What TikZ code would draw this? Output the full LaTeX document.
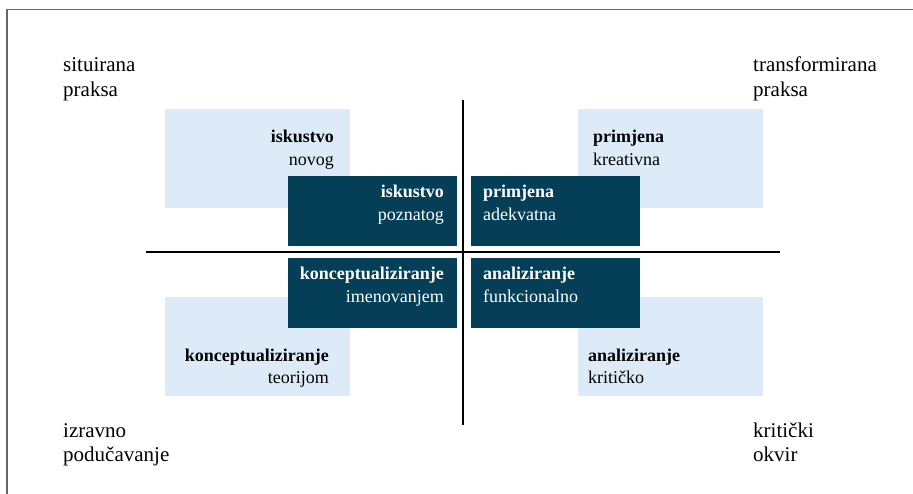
\documentclass[tikz,border=0pt]{standalone}
\usepackage{fontspec}
\setmainfont{Liberation Serif}
\usetikzlibrary{positioning}
\definecolor{darkbox}{HTML}{053F57}
\definecolor{lightbox}{HTML}{DDEBF8}

\begin{document}
\begin{tikzpicture}[x=1pt,y=-1pt,
	lightbox/.style={fill=lightbox,anchor=north west,inner sep=0,minimum width=185,minimum height=99},
	darkbox/.style={fill=darkbox,anchor=north west,inner sep=0,minimum width=169,minimum height=70},
	boxtext/.style={inner sep=0,font=\fontsize{18}{22.5}\selectfont},
	cornertext/.style={inner sep=0,align=left,anchor=base west,font=\fontsize{21}{24.5}\selectfont},
	axis/.style={line width=1.6pt},
	frame/.style={draw=black!60,line width=1.4pt}]
					\useasboundingbox (0,0) rectangle (913,494);
					\draw[frame] (7,494) -- (7,9.5) -- (913,9.5);
					% light boxes
					\node[lightbox] (novog) at (165,109) {};
					\node[lightbox] (kreativna) at (578,109) {};
					\node[lightbox] (teorijom) at (165,297) {};
					\node[lightbox] (kriticko) at (578,297) {};
					% dark boxes
					\node[darkbox] (poznatog) at (288,176) {};
					\node[darkbox] (adekvatna) at (471,176) {};
					\node[darkbox] (imenovanjem) at (288,258) {};
					\node[darkbox] (funkcionalno) at (471,258) {};
					% axes
					\coordinate (top) at (463,100);
					\coordinate (bottom) at (463,425);
					\coordinate (left) at (146,252);
					\coordinate (right) at (780,252);
					\draw[axis] (top) -- (bottom);
					\draw[axis] (left) -- (right);
					% box texts (base = last line)
					\node[boxtext,align=right,anchor=base east] (t1) at (334,165.5) {\textbf{iskustvo}\\novog};
					\node[boxtext,align=left,anchor=base west] (t2) at (593,165.5) {\textbf{primjena}\\kreativna};
					\node[boxtext,align=right,anchor=base east] (t3) at (329,383.5) {\textbf{konceptualiziranje}\\teorijom};
					\node[boxtext,align=left,anchor=base west] (t4) at (588,383.5) {\textbf{analiziranje}\\kritičko};
					\node[boxtext,align=right,anchor=base east,text=white] (t5) at (444,220.5) {\textbf{iskustvo}\\poznatog};
					\node[boxtext,align=left,anchor=base west,text=white] (t6) at (483,220.5) {\textbf{primjena}\\adekvatna};
					\node[boxtext,align=right,anchor=base east,text=white] (t7) at (444,302.5) {\textbf{konceptualiziranje}\\imenovanjem};
					\node[boxtext,align=left,anchor=base west,text=white] (t8) at (483,302.5) {\textbf{analiziranje}\\funkcionalno};
					% corner texts
					\node[cornertext] (sp) at (63,96.5) {situirana\\praksa};
					\node[cornertext] (tp) at (753,96.5) {transformirana\\praksa};
					\node[cornertext] (ip) at (63,461.5) {izravno\\podučavanje};
					\node[cornertext] (ko) at (753,461.5) {kritički\\okvir};
\end{tikzpicture}
\end{document}
